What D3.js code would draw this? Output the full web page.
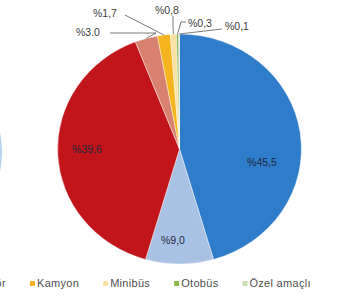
<!DOCTYPE html>
<html>
<head>
<meta charset="utf-8">
<script src="https://cdn.jsdelivr.net/npm/d3@7"></script>
<style>
  body { margin: 0; background: #fff; }
  svg { display: block; font-family: "Liberation Sans", Arial, sans-serif; }
</style>
</head>
<body>
<div id="chart"></div>
<script>
// data
var categories = ['Otomobil', 'Motosiklet', 'Kamyonet', 'Traktör', 'Kamyon', 'Minibüs', 'Otobüs', 'Özel amaçlı'];
var values = [45.5, 9.0, 39.6, 3.0, 1.7, 0.8, 0.3, 0.1];
var labels = ['%45,5', '%9,0', '%39,6', '%3.0', '%1,7', '%0,8', '%0,3', '%0,1'];
var colors = ['#2f7dca', '#a9c1e3', '#c1141b', '#da8272', '#f6b51e', '#f9e2a4', '#8cb54c', '#c8deac'];

// build canvas
var width = 354,
	height = 301;

var svg = d3.select('#chart')
			.append('svg')
			.attr('width', width)
			.attr('height', height);

// neighbour chart peeking in at the left edge
svg.append('ellipse')
	.attr('cx', -121)
	.attr('cy', 152)
	.attr('rx', 123)
	.attr('ry', 112)
	.attr('fill', '#4a92d6')
	.attr('opacity', 0.4);

var cx = 179.5, cy = 149, r = 115, sx = 1.06;

var pie = d3.pie().sort(null).value(d => d);
var arcs = pie(values);
var arc = d3.arc().innerRadius(0).outerRadius(r);

var g = svg.append('g')
	.attr('transform', 'translate(' + cx + ',' + cy + ') scale(' + sx + ',1)');

g.selectAll('path')
	.data(arcs).enter()
	.append('path')
	.attr('d', arc)
	.attr('fill', (d, i) => colors[i])
	.attr('stroke', '#fff')
	.attr('stroke-width', 0.4);

// point on the rim for slice i
function rim(i, k) {
	var a = (arcs[i].startAngle + arcs[i].endAngle) / 2;
	return [cx + sx * r * k * Math.sin(a), cy - r * k * Math.cos(a)];
}

// labels inside the big slices
var insidePos = [[262, 166], [173, 244], [87, 153]];
svg.append('g').selectAll('text')
	.data(insidePos).enter()
	.append('text')
	.attr('x', d => d[0])
	.attr('y', d => d[1])
	.attr('text-anchor', 'middle')
	.attr('font-size', 10.5)
	.attr('fill', '#1e2a3e')
	.text((d, i) => labels[i]);

// small slices: label text position + leader elbow
var outside = [
	{ i: 3, tx: 76, ty: 36, anchor: 'start', pts: [[110, 33], [156, 33]] },
	{ i: 4, tx: 93, ty: 17, anchor: 'start', pts: [[125, 15]] },
	{ i: 5, tx: 155, ty: 14, anchor: 'start', pts: [[173, 16], [173, 26]] },
	{ i: 6, tx: 188, ty: 27, anchor: 'start', pts: [[186, 22], [181, 22]] },
	{ i: 7, tx: 225, ty: 30, anchor: 'start', pts: [[222, 29]] }
];

var line = d3.line();
var lead = svg.append('g');
lead.selectAll('path')
	.data(outside).enter()
	.append('path')
	.attr('d', d => line(d.pts.concat([rim(d.i, 1.0)])))
	.attr('fill', 'none')
	.attr('stroke', '#595959')
	.attr('stroke-width', 0.8);

lead.selectAll('text')
	.data(outside).enter()
	.append('text')
	.attr('x', d => d.tx)
	.attr('y', d => d.ty)
	.attr('text-anchor', d => d.anchor)
	.attr('font-size', 10.5)
	.attr('fill', '#404040')
	.text(d => labels[d.i]);

// legend, laid out by text width, then shifted so Kamyon sits at x=30
var legend = svg.append('g');
var items = legend.selectAll('g')
	.data(categories).enter()
	.append('g');

items.append('rect')
	.attr('width', 5)
	.attr('height', 5)
	.attr('y', 281)
	.attr('fill', (d, i) => colors[i]);

items.append('text')
	.attr('x', 7)
	.attr('y', 287)
	.attr('font-size', 11)
	.attr('fill', '#505050')
	.attr('letter-spacing', 0.3)
	.text(d => d);

var xs = [], ws = [], acc = 0;
items.each(function(d, i) {
	var w = 7 + d3.select(this).select('text').node().getComputedTextLength();
	xs.push(acc);
	ws.push(w);
	acc += w + 24;
});
var shift = 30 - xs[4];
items.attr('transform', (d, i) => 'translate(' + (xs[i] + shift) + ',0)');

// entries that fall fully left of the picture are not drawn
items.filter((d, i) => xs[i] + shift + ws[i] < 0).remove();
</script>
</body>
</html>
